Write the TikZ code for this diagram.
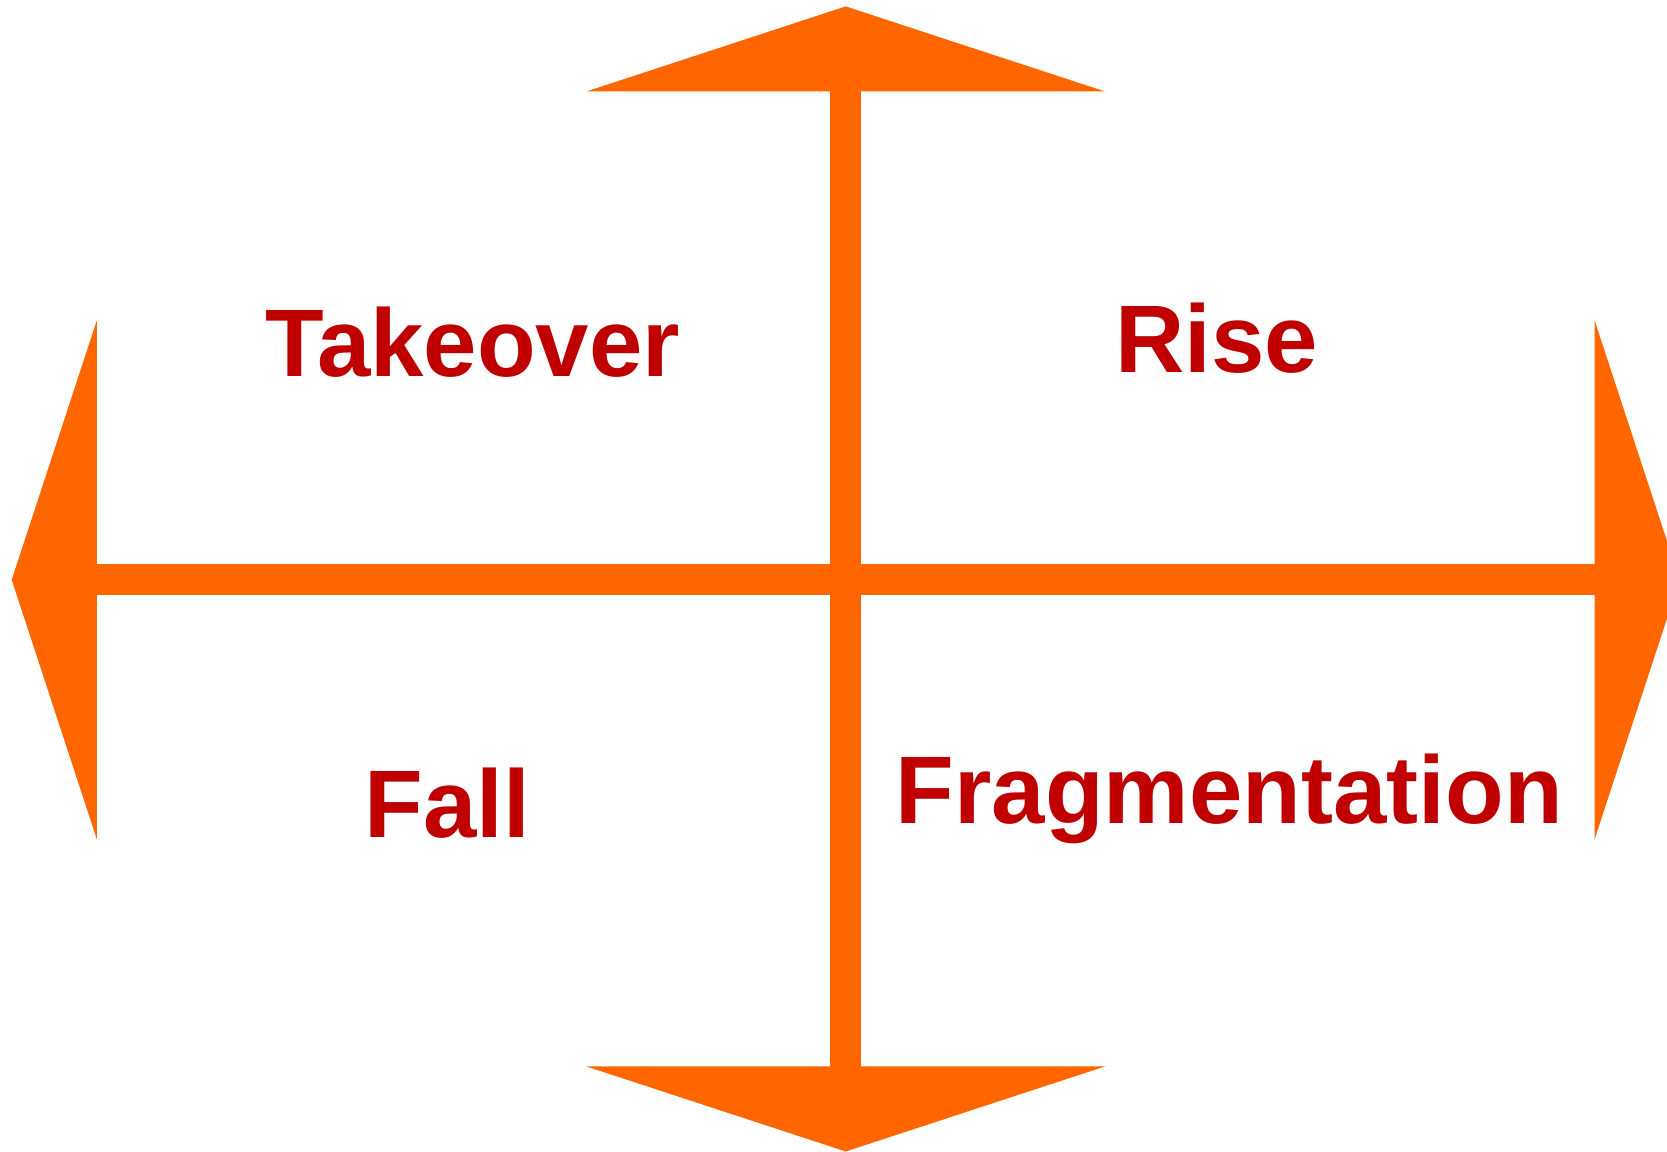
\documentclass[tikz,border=0pt]{standalone}
\usepackage{fontspec}
\setmainfont{Liberation Sans}
\usetikzlibrary{arrows.meta}
\definecolor{axisorange}{HTML}{FF6600}
\definecolor{labelred}{HTML}{C00000}
\tikzset{
  axis/.style={draw=axisorange, line width=3.08mm,
    {Triangle[length=8.5mm, width=51.6mm, fill=axisorange]}-{Triangle[length=8.5mm, width=51.6mm, fill=axisorange]}},
  quadlabel/.style={text=labelred, font=\bfseries\fontsize{27.3pt}{33pt}\selectfont, inner sep=0pt, anchor=base}
}
\begin{document}
\begin{tikzpicture}[x=0.01cm, y=-0.01cm]
  \useasboundingbox (0,0) rectangle (1667,1152);
  \clip (0,0) rectangle (1667,1152);
  \coordinate (L) at (11.7,579.8);
  \coordinate (R) at (1679.7,579.8);
  \coordinate (T) at (845.7,6.4);
  \coordinate (B) at (845.7,1151.5);
  \draw[axis] (L) -- (R);
  \draw[axis] (T) -- (B);
  \node[quadlabel] (takeover) at (472.7,376.3) {Takeover};
  \node[quadlabel] (rise) at (1216.5,372.7) {Rise};
  \node[quadlabel] (fall) at (447.5,837.5) {Fall};
  \node[quadlabel] (frag) at (1229.3,823.2) {Fragmentation};
\end{tikzpicture}
\end{document}
